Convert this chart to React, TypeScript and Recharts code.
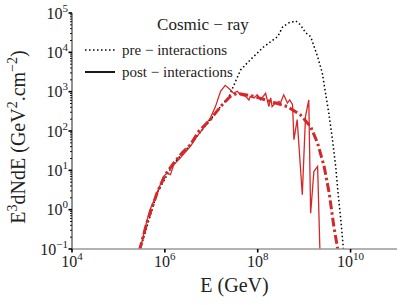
import React from 'react';
import { ComposedChart, Line, XAxis, YAxis } from 'recharts';

const FONT = 'Liberation Serif, serif';
const RED = '#d62728';

// x tick values (GeV) and y decade exponents
const xTicks = [1e4, 1e6, 1e8, 1e10];
const yMajorExps = [-1, 0, 1, 2, 3, 4, 5];

// pre-interactions (log10 E, log10 E^3 dN/dE)
const preLogE = [5.47, 5.83, 6.19, 6.55, 6.98, 7.2, 7.37, 7.63, 7.84, 8.13, 8.43, 8.54, 8.67, 8.82, 8.92, 9.03, 9.14, 9.29, 9.39, 9.46, 9.53, 9.61, 9.68, 9.73, 9.79, 9.85];
const preLogF = [-1.0, 0.42, 1.18, 1.65, 2.29, 2.62, 2.85, 3.55, 3.81, 4.14, 4.4, 4.65, 4.75, 4.8, 4.7, 4.5, 4.4, 3.89, 3.48, 2.97, 2.46, 1.78, 1.09, 0.43, -0.26, -1.05];

// smoothed post-interactions (dash-dot)
const fitLogE = [5.45, 5.61, 5.83, 6.01, 6.19, 6.37, 6.55, 6.73, 6.98, 7.2, 7.41, 7.56, 7.92, 8.28, 8.64, 8.92, 9.14, 9.29, 9.43, 9.54, 9.64, 9.73];
const fitLogF = [-1.05, -0.34, 0.42, 0.89, 1.18, 1.44, 1.65, 1.99, 2.29, 2.62, 2.88, 2.96, 2.88, 2.75, 2.62, 2.41, 2.11, 1.69, 1.1, 0.42, -0.43, -1.05];

// post-interactions (thin solid)
const postLogE = [5.46, 5.58, 5.68, 5.83, 5.97, 6.05, 6.12, 6.19, 6.33, 6.55, 6.69, 6.8, 6.98, 7.09, 7.2, 7.3, 7.41, 7.48, 7.56, 7.63, 7.74, 7.81, 7.84, 7.92, 7.99, 8.06, 8.17, 8.24, 8.28, 8.31, 8.38, 8.46, 8.49, 8.56, 8.64, 8.69, 8.75, 8.78, 8.85, 8.96, 9.03, 9.1, 9.14, 9.21, 9.29, 9.34];
const postLogF = [-1.05, -0.43, 0.0, 0.42, 0.84, 0.93, 0.89, 1.14, 1.31, 1.61, 1.86, 2.03, 2.33, 2.62, 3.01, 3.16, 3.05, 2.96, 3.01, 2.92, 2.88, 2.79, 2.88, 2.84, 2.92, 2.79, 2.96, 2.62, 2.84, 2.62, 2.71, 2.75, 2.71, 2.92, 2.71, 2.79, 2.67, 1.78, 2.29, 0.38, 2.37, 2.79, -0.09, 0.97, 1.1, -1.05];

const toPts = (le: number[], lf: number[]) => le.map((e, i) => ({ E: Math.pow(10, e), F: Math.pow(10, lf[i]) }));
const preData = toPts(preLogE, preLogF);
const fitData = toPts(fitLogE, fitLogF);
const postData = toPts(postLogE, postLogF);

const yTicks: number[] = [];
yMajorExps.forEach((ex) => {
  yTicks.push(Math.pow(10, ex));
  if (ex < 5) for (let k = 2; k <= 9; k++) yTicks.push(k * Math.pow(10, ex));
});

const supStr = (n: number) => (n < 0 ? '\u2212' + Math.abs(n) : String(n));

const XTick = (props: any) => {
  const { x, y, payload } = props;
  const ex = Math.round(Math.log10(payload.value));
  return (
    <g>
      <line x1={x} x2={x} y1={y} y2={y + 3.5} stroke="#000" strokeWidth={1.6} />
      <text x={x} y={y + 18} textAnchor="middle" fontFamily={FONT} fontSize={16} fill="#222">
        <tspan>10</tspan>
        <tspan dy={-7} fontSize={11}>{supStr(ex)}</tspan>
      </text>
    </g>
  );
};

const YTick = (props: any) => {
  const { x, y, payload } = props;
  const v = payload.value;
  const ex = Math.round(Math.log10(v));
  const major = Math.abs(v - Math.pow(10, ex)) < 1e-6 * Math.pow(10, ex);
  return (
    <g>
      <line x1={x} x2={x - (major ? 3.5 : 2)} y1={y} y2={y} stroke="#000" strokeWidth={major ? 1.6 : 0.9} />
      {major && (
        <text x={x - 4} y={y + 5.5} textAnchor="end" fontFamily={FONT} fontSize={16} fill="#222">
          <tspan>10</tspan>
          <tspan dy={-7} fontSize={11}>{supStr(ex)}</tspan>
        </text>
      )}
    </g>
  );
};

const YLabel = () => {
  const cx = 25;
  const cy = 137;
  return (
    <text
      x={cx}
      y={cy}
      transform={`rotate(-90 ${cx} ${cy})`}
      textAnchor="middle"
      fontFamily={FONT}
      fontSize={20}
      fill="#222"
    >
      <tspan>E</tspan>
      <tspan dy={-8} fontSize={14}>3</tspan>
      <tspan dy={8}>dNdE (GeV</tspan>
      <tspan dy={-8} fontSize={14}>2</tspan>
      <tspan dy={8}>.cm</tspan>
      <tspan dy={-8} fontSize={14}>{'\u22122'}</tspan>
      <tspan dy={8}>)</tspan>
    </text>
  );
};

const XLabel = (props: any) => {
  const vb = props.viewBox || { x: 72, y: 249, width: 325, height: 56 };
  return (
    <text x={vb.x + vb.width / 2} y={292} textAnchor="middle" fontFamily={FONT} fontSize={20} fill="#222">
      E (GeV)
    </text>
  );
};

const LegendOverlay = () => (
  <svg width={407} height={90} style={{ position: 'absolute', left: 0, top: 0, pointerEvents: 'none' }}>
    <text x={203} y={30} textAnchor="middle" fontFamily={FONT} fontSize={17} fill="#222">
      Cosmic {'\u2212'} ray
    </text>
    <line x1={85} x2={115} y1={50} y2={50} stroke="#000" strokeWidth={1.5} strokeDasharray="1.5 2.5" />
    <text x={122} y={54.5} fontFamily={FONT} fontSize={15} fill="#222">
      pre {'\u2212'} interactions
    </text>
    <line x1={85} x2={115} y1={72} y2={72} stroke="#000" strokeWidth={1.8} />
    <text x={122} y={76.5} fontFamily={FONT} fontSize={15} fill="#222">
      post {'\u2212'} interactions
    </text>
  </svg>
);

export default function App() {
  return (
    <div style={{ position: 'absolute', left: 0, top: 0, width: 407, height: 305, background: '#fff' }}>
      <ComposedChart width={407} height={305} margin={{ top: 13, right: 10, bottom: 0, left: 0 }}>
        <XAxis
          dataKey="E"
          type="number"
          scale="log"
          domain={[1e4, 1e11]}
          allowDataOverflow
          ticks={xTicks}
          tick={<XTick />}
          tickLine={false}
          tickSize={0}
          tickMargin={0}
          height={56}
          axisLine={{ stroke: '#999', strokeWidth: 1.5 }}
          label={<XLabel />}
        />
        <XAxis
          xAxisId="top"
          orientation="top"
          dataKey="E"
          type="number"
          scale="log"
          domain={[1e4, 1e11]}
          allowDataOverflow
          height={0}
          tick={false}
          tickLine={false}
          axisLine={{ stroke: '#333', strokeWidth: 1.3 }}
        />
        <YAxis
          dataKey="F"
          type="number"
          scale="log"
          domain={[0.1, 1e5]}
          allowDataOverflow
          ticks={yTicks}
          interval={0}
          tick={<YTick />}
          tickLine={false}
          tickSize={0}
          tickMargin={0}
          width={72}
          axisLine={{ stroke: '#555', strokeWidth: 1.3 }}
          label={<YLabel />}
        />
        <YAxis
          yAxisId="right"
          orientation="right"
          dataKey="F"
          type="number"
          scale="log"
          domain={[0.1, 1e5]}
          allowDataOverflow
          width={0}
          tick={false}
          tickLine={false}
          axisLine={{ stroke: '#333', strokeWidth: 1.3 }}
        />
        <Line data={preData} dataKey="F" stroke="#000" strokeWidth={1.5} strokeDasharray="1.5 2.5" dot={false} isAnimationActive={false} />
        <Line data={postData} dataKey="F" stroke={RED} strokeWidth={1.3} dot={false} isAnimationActive={false} />
        <Line data={fitData} dataKey="F" stroke={RED} strokeWidth={3} strokeDasharray="9 3 2.5 3" dot={false} isAnimationActive={false} />
      </ComposedChart>
      <LegendOverlay />
    </div>
  );
}
